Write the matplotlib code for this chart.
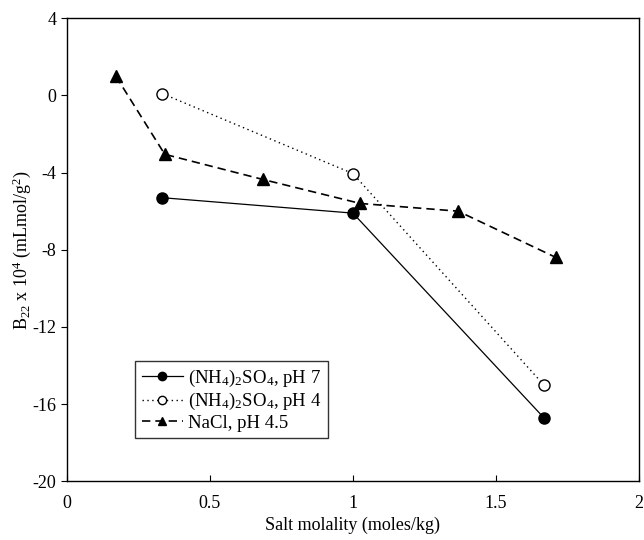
import matplotlib
matplotlib.use("Agg")
import matplotlib.pyplot as plt

plt.rcParams['font.family'] = ['Liberation Serif', 'DejaVu Serif']
plt.rcParams['mathtext.fontset'] = 'custom'
plt.rcParams['mathtext.rm'] = 'Liberation Serif'
plt.rcParams['mathtext.it'] = 'Liberation Serif:italic'
plt.rcParams['axes.unicode_minus'] = False

# (NH4)2SO4, pH 7
x_ph7 = [0.333, 1.0, 1.667]
y_ph7 = [-5.3, -6.1, -16.7]
# (NH4)2SO4, pH 4
x_ph4 = [0.333, 1.0, 1.667]
y_ph4 = [0.1, -4.05, -15.0]
# NaCl, pH 4.5
x_nacl = [0.171, 0.342, 0.684, 1.026, 1.368, 1.71]
y_nacl = [1.0, -3.05, -4.35, -5.6, -6.0, -8.4]

fig = plt.figure(figsize=(6.44, 5.4), dpi=100)
ax = fig.add_axes([0.104, 0.109, 0.888, 0.857])

ax.plot(x_ph7, y_ph7, color='black', linestyle='-', linewidth=0.9,
        marker='o', markersize=8, markerfacecolor='black',
        label=r'(NH$_4$)$_2$SO$_4$, pH 7')
ax.plot(x_ph4, y_ph4, color='black', linestyle=(0, (1, 2.5)), linewidth=1.0,
        marker='o', markersize=8, markerfacecolor='white',
        label=r'(NH$_4$)$_2$SO$_4$, pH 4')
ax.plot(x_nacl, y_nacl, color='black', linestyle=(0, (5, 3)), linewidth=1.2,
        marker='^', markersize=8.5, markerfacecolor='black',
        label='NaCl, pH 4.5')

ax.set_xlim(0, 2)
ax.set_ylim(-20, 4)
ax.set_xticks([0, 0.5, 1, 1.5, 2])
ax.set_xticklabels(['0', '0.5', '1', '1.5', '2'])
ax.set_yticks([-20, -16, -12, -8, -4, 0, 4])
ax.tick_params(axis='x', direction='in', length=4, labelsize=13, pad=10)
ax.tick_params(axis='y', direction='out', length=4, labelsize=13)
for s in ax.spines.values():
    s.set_linewidth(1.0)

ax.set_xlabel('Salt molality (moles/kg)', fontsize=13, labelpad=3)
ax.set_ylabel(r'B$_{22}$ x 10$^4$ (mLmol/g$^2$)', fontsize=13, labelpad=0)

leg = ax.legend(loc='lower left', bbox_to_anchor=(0.119, 0.093), fontsize=13.5,
                frameon=True, fancybox=False, edgecolor='black',
                handlelength=2.2, borderpad=0.35, labelspacing=0.12,
                handletextpad=0.3, borderaxespad=0, markerscale=0.75)
leg.get_frame().set_linewidth(1.0)

fig.savefig('out.png', dpi=100)
